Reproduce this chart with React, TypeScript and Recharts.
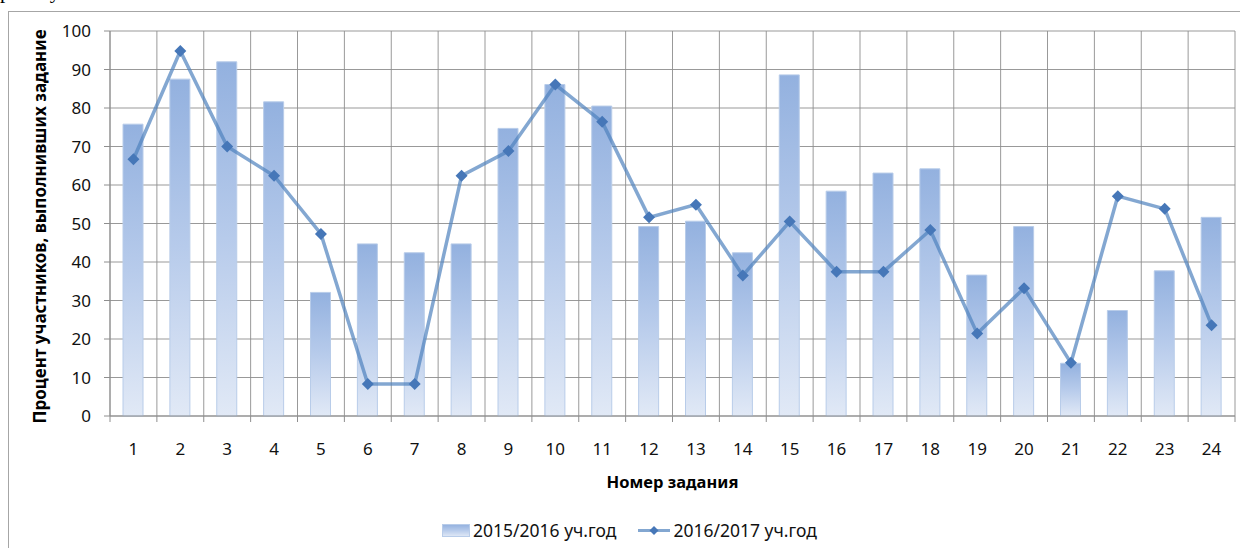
import React from "react";
import { ComposedChart, Bar, Line, XAxis, YAxis, CartesianGrid, Label } from "recharts";

const tasks = [
  "1", "2", "3", "4", "5", "6", "7", "8", "9", "10", "11", "12",
  "13", "14", "15", "16", "17", "18", "19", "20", "21", "22", "23", "24",
];

// 2015/2016 – bars
const year1516 = [
  75.8, 87.5, 92.0, 81.6, 32.1, 44.7, 42.4, 44.7, 74.7, 86.1, 80.5, 49.2,
  50.6, 42.4, 88.6, 58.4, 63.1, 64.2, 36.6, 49.2, 13.7, 27.4, 37.7, 51.6,
];

// 2016/2017 – line
const year1617 = [
  66.7, 94.8, 70.0, 62.4, 47.3, 8.3, 8.3, 62.4, 68.8, 86.1, 76.4, 51.6,
  54.9, 36.5, 50.5, 37.5, 37.5, 48.3, 21.4, 33.2, 13.8, 57.1, 53.8, 23.6,
];

const yTicks = [0, 10, 20, 30, 40, 50, 60, 70, 80, 90, 100];
const seriesNames = ["2015/2016 уч.год", "2016/2017 уч.год"];

const data = tasks.map((task, i) => ({
  task,
  y1516: year1516[i],
  y1617: year1617[i],
}));

const FONT = '"Noto Sans", sans-serif';
const GRID = "#8e8e8e";
const LINE = "#4f81bd";
const DOT = "#4677b8";

const W = 1240;
const H = 548;
const M = { top: 31, right: 5, left: 0, bottom: 0 };
const Y_W = 110;
const X_H = 132;
const PLOT_BOTTOM = H - M.bottom - X_H;
const STEP = (W - M.right - M.left - Y_W) / tasks.length;

const XTick = ({ x, payload, index }: any) => {
  const half = STEP / 2;
  return (
    <g>
      <line x1={x - half} x2={x - half} y1={PLOT_BOTTOM} y2={PLOT_BOTTOM + 6} stroke={GRID} />
      {index === tasks.length - 1 && (
        <line x1={x + half} x2={x + half} y1={PLOT_BOTTOM} y2={PLOT_BOTTOM + 6} stroke={GRID} />
      )}
      <text x={x} y={PLOT_BOTTOM + 39} textAnchor="middle" fontSize={17} fontFamily={FONT} fill="#111">
        {payload.value}
      </text>
    </g>
  );
};

const Diamond = ({ cx, cy }: any) => {
  if (cx == null || cy == null) return null;
  const r = 6;
  return (
    <polygon
      points={`${cx},${cy - r} ${cx + r},${cy} ${cx},${cy + r} ${cx - r},${cy}`}
      fill={DOT}
    />
  );
};

const YTitle = ({ viewBox }: any) => {
  const cy = viewBox.y + viewBox.height / 2 + 3;
  return (
    <text
      x={46}
      y={cy}
      transform={`rotate(-90 46 ${cy})`}
      textAnchor="middle"
      fontSize={17}
      fontWeight={700}
      fontFamily={FONT}
      fill="#000"
    >
      Процент участников, выполнивших задание
    </text>
  );
};

const XTitle = ({ viewBox }: any) => (
  <text
    x={viewBox.x + viewBox.width / 2}
    y={488}
    textAnchor="middle"
    fontSize={16.5}
    fontWeight={700}
    fontFamily={FONT}
    fill="#000"
  >
    Номер задания
  </text>
);

const BarGradient = ({ id }: { id: string }) => (
  <linearGradient id={id} x1="0" y1="0" x2="0" y2="1">
    <stop offset="0%" stopColor="#93b1df" />
    <stop offset="50%" stopColor="#b7cbeb" />
    <stop offset="100%" stopColor="#e1e9f6" />
  </linearGradient>
);

const ChartLegend = () => (
  <div
    style={{
      position: "absolute",
      left: 442,
      top: 518,
      display: "flex",
      alignItems: "center",
      fontFamily: FONT,
      fontSize: 17.5,
      color: "#111",
      whiteSpace: "nowrap",
    }}
  >
    <svg width={28} height={13}>
      <defs>
        <BarGradient id="legendGrad" />
      </defs>
      <rect x={0.5} y={0.5} width={27} height={12} fill="url(#legendGrad)" stroke="#b8cce9" />
    </svg>
    <span style={{ marginLeft: 3 }}>{seriesNames[0]}</span>
    <svg width={32} height={13} style={{ marginLeft: 22 }}>
      <line x1={0} x2={32} y1={6.5} y2={6.5} stroke={LINE} strokeOpacity={0.7} strokeWidth={3} />
      <polygon points="16,2 20.5,6.5 16,11 11.5,6.5" fill={DOT} />
    </svg>
    <span style={{ marginLeft: 3 }}>{seriesNames[1]}</span>
  </div>
);

export default function App() {
  return (
    <div
      style={{
        position: "fixed",
        left: 0,
        top: 0,
        width: W,
        height: H,
        overflow: "hidden",
        background: "#fff",
      }}
    >
      <div
        style={{
          position: "absolute",
          left: 0,
          top: -19,
          fontFamily: '"Liberation Serif", serif',
          fontSize: 21,
          lineHeight: "21px",
        }}
      >
        работу
      </div>
      <div
        style={{
          position: "absolute",
          left: 8,
          top: 11,
          width: 1300,
          height: 600,
          border: "1px solid #a6a6a6",
        }}
      />
      <div style={{ position: "absolute", left: 0, top: 0 }}>
        <ComposedChart width={W} height={H} margin={M} data={data} barSize={20}>
          <defs>
            <BarGradient id="barGrad" />
          </defs>
          <CartesianGrid
            stroke={GRID}
            strokeOpacity={0.9}
            verticalCoordinatesGenerator={({ offset }: any) =>
              Array.from({ length: tasks.length + 1 }, (_, i) => offset.left + (i * offset.width) / tasks.length)
            }
          />
          <XAxis
            dataKey="task"
            height={X_H}
            interval={0}
            tickLine={false}
            axisLine={{ stroke: GRID }}
            tick={<XTick />}
          >
            <Label content={<XTitle />} />
          </XAxis>
          <YAxis
            domain={[0, 100]}
            ticks={yTicks}
            interval={0}
            width={Y_W}
            tickSize={6}
            tickMargin={13}
            tickLine={{ stroke: GRID }}
            axisLine={{ stroke: GRID }}
            tick={{ fill: "#111", fontSize: 17, fontFamily: FONT }}
          >
            <Label content={<YTitle />} />
          </YAxis>
          <Bar
            dataKey="y1516"
            name={seriesNames[0]}
            fill="url(#barGrad)"
            stroke="#b8cce9"
            strokeWidth={1}
            isAnimationActive={false}
          />
          <Line
            dataKey="y1617"
            name={seriesNames[1]}
            type="linear"
            stroke={LINE}
            strokeOpacity={0.7}
            strokeWidth={3.5}
            dot={<Diamond />}
            activeDot={false}
            isAnimationActive={false}
          />
        </ComposedChart>
      </div>
      <ChartLegend />
    </div>
  );
}
